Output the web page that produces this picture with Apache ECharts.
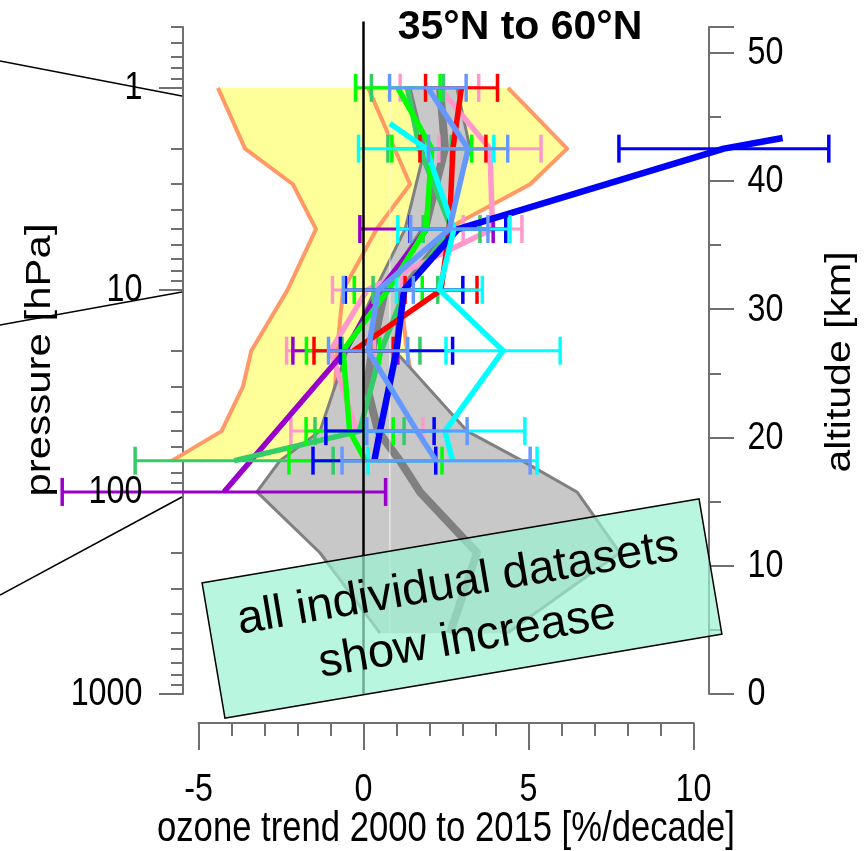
<!DOCTYPE html>
<html>
<head>
<meta charset="utf-8">
<script src="https://cdn.jsdelivr.net/npm/echarts@6/dist/echarts.min.js"></script>
<style>
  html, body { margin: 0; padding: 0; background: #fff; }
  #chart { width: 864px; height: 851px; }
</style>
</head>
<body>
<div id="chart"></div>
<script>
// ---- axis ticks ----
const pressureLabels = [1, 10, 100, 1000];
const pressureMinor = [0.5, 0.6, 0.7, 0.8, 0.9, 2, 3, 4, 5, 6, 7, 8, 9,
  20, 30, 40, 50, 60, 70, 80, 90, 200, 300, 400, 500, 600, 700, 800, 900];
const trendLabels = [-5, 0, 5, 10];
const altitudeLabels = [0, 10, 20, 30, 40, 50];

// ---- model range (yellow band): left / right edges and inner line ----
const yellowLeftP = [1, 2, 3, 5, 10, 20, 30, 50, 70];
const yellowLeftT = [-4.41, -3.59, -2.14, -1.44, -2.3, -3.4, -3.65, -4.3, -5.8];
const yellowRightP = [1, 2, 3, 5, 7, 10, 20, 30, 50, 60, 70];
const yellowRightT = [4.38, 6.17, 5.05, 2.53, 1.3, 1.1, 1.32, 1.5, 1.95, 2.53, 2.92];
const yellowInnerP = [1, 3, 5, 10, 20, 30, 50, 70];
const yellowInnerT = [0.14, 1.41, 0.4, -0.62, -0.8, -0.86, -1.1, -1.41];

// ---- combined estimate (gray band) ----
const grayP = [1, 2, 5, 10, 20, 50, 70, 100, 200, 500];
const grayLow = [1.41, 1.86, 1.26, 0.35, -0.5, -1.32, -2.53, -3.23, -1.32, 0.5];
const grayHigh = [2.83, 3.23, 2.53, 1.1, 0.95, 3.14, 4.8, 6.47, 7.77, 4.35];
const grayMidP = [1, 2, 5, 10, 20, 30, 50, 70, 100, 200, 500];
const grayMid = [2.32, 2.47, 1.86, 0.65, 0.26, 0.1, 0.44, 1.1, 1.71, 3.44, 2.62];

// ---- individual datasets: pressure [hPa], trend [%/decade], 2-sigma half width ----
const pinkP = [1, 2, 5, 10, 20, 50];
const pinkT = [2.3, 3.83, 3.91, 0.11, -1.0, -0.2];
const pinkE = [1.19, 1.55, 0.89, 1.05, 1.33, 2.0];

const purpleP = [5, 10, 20, 100];
const purpleT = [1.91, 0.5, -0.55, -4.23];
const purpleE = [2.02, null, 1.59, 4.9];

const seaGreenP = [1, 2, 5, 10, 20, 50, 70];
const seaGreenT = [1.33, 1.7, 2.67, 1.27, 0.53, -0.12, -3.92];
const seaGreenE = [1.09, 0.96, 0.86, 0.98, 1.18, 1.35, 3.0];

const greenP = [1, 2, 5, 10, 20, 50, 70];
const greenT = [1.04, 2.07, 1.9, 0.75, -0.62, -0.42, 0.06];
const greenE = [1.28, 1.21, null, 1.03, 1.11, 1.32, 2.32];

const redP = [1, 2, 5, 10, 20];
const redT = [2.97, 2.71, 2.6, 2.35, -0.3];
const redE = [1.09, 1.0, null, 1.09, 1.2];

const blueP = [1.77, 2, 5, 10, 20, 50, 70];
const blueT = [12.7, 10.92, 2.86, 1.23, 1.0, 0.5, 0.33];
const blueE = [null, 3.18, 1.45, 1.78, 1.7, 1.64, 1.86];

const cyanP = [1.5, 2, 5, 10, 20, 50, 70];
const cyanT = [0.8, 1.9, 2.74, 2.3, 4.23, 2.47, 2.7];
const cyanE = [null, 2.05, 1.7, 1.3, 1.73, 2.42, 2.56];

const cornflowerP = [1, 2, 5, 10, 20, 50, 70];
const cornflowerT = [1.95, 3.17, 2.6, 0.45, 0.14, 1.62, 2.2];
const cornflowerE = [1.16, 1.2, 1.17, 1.06, 1.2, 1.52, 2.85];

const FONT = '"Liberation Sans", Arial, sans-serif';
const AXIS_GRAY = '#707070';
const SQUEEZE = 0.85;
const lg = Math.log10;
const LOG_TOP = lg(0.5);
const LOG_BOTTOM = lg(1000);
const TREND_MIN = -5, TREND_MAX = 10;

const pts = (P, T) => P.map((p, i) => [T[i], lg(p)]);

function customBase(z, data, renderItem, yAxisIndex) {
  return {
    type: 'custom', coordinateSystem: 'cartesian2d', xAxisIndex: 0, yAxisIndex: yAxisIndex || 0,
    clip: false, silent: true, z: z, data: data, renderItem: renderItem
  };
}

// filled band between two edges
function band(leftP, leftT, rightP, rightT, fill, z) {
  const poly = pts(leftP, leftT).concat(pts(rightP, rightT).reverse());
  return customBase(z, [poly[0]], (params, api) => ({
    type: 'polygon',
    shape: { points: poly.map(v => api.coord(v)) },
    style: { fill: fill }
  }));
}

function polyline(P, T, color, width, z) {
  const v = pts(P, T);
  return customBase(z, [v[0]], (params, api) => ({
    type: 'polyline',
    shape: { points: v.map(p => api.coord(p)) },
    style: { stroke: color, lineWidth: width, fill: null, lineJoin: 'round' }
  }));
}

function errorBars(P, T, E, color, z) {
  const data = [];
  P.forEach((p, i) => { if (E[i] != null) data.push([T[i], lg(p), E[i]]); });
  return customBase(z, data, (params, api) => {
    const x = api.value(0), y = api.value(1), e = api.value(2);
    const a = api.coord([x - e, y]);
    const b = api.coord([x + e, y]);
    const tick = { stroke: color, lineWidth: 3.5 };
    return {
      type: 'group',
      children: [
        { type: 'line', shape: { x1: a[0], y1: a[1], x2: b[0], y2: b[1] }, style: { stroke: color, lineWidth: 3 } },
        { type: 'line', shape: { x1: a[0], y1: a[1] - 14, x2: a[0], y2: a[1] + 14 }, style: tick },
        { type: 'line', shape: { x1: b[0], y1: b[1] - 14, x2: b[0], y2: b[1] + 14 }, style: tick }
      ]
    };
  });
}

function dataset(P, T, E, color, width, z) {
  return [polyline(P, T, color, width, z), errorBars(P, T, E, color, z)];
}

// tick labels, placed through the axes and drawn slightly condensed
function tickText(text, pos, align) {
  return {
    type: 'text', x: pos[0], y: pos[1], scaleX: SQUEEZE,
    style: { text: text, font: '38px ' + FONT, fill: '#000', align: align, verticalAlign: 'middle' }
  };
}

const labelSeries = [
  customBase(20, pressureLabels.map(p => [TREND_MIN, lg(p)]), (params, api) => {
    const c = api.coord([api.value(0), api.value(1)]);
    return tickText(String(pressureLabels[params.dataIndex]), [c[0] - 56, c[1] + 1], 'right');
  }),
  customBase(20, trendLabels.map(t => [t, LOG_BOTTOM]), (params, api) => {
    const c = api.coord([api.value(0), api.value(1)]);
    return tickText(String(trendLabels[params.dataIndex]), [c[0], c[1] + 97], 'center');
  }),
  customBase(20, altitudeLabels.map(a => [TREND_MAX, a]), (params, api) => {
    const c = api.coord([api.value(0), api.value(1)]);
    return tickText(String(altitudeLabels[params.dataIndex]), [c[0] + 54, c[1] + 1], 'left');
  }, 1)
];

const series = [
  band(yellowLeftP, yellowLeftT, yellowRightP, yellowRightT, '#ffff99', 1),
  polyline(yellowLeftP, yellowLeftT, '#ff9966', 4, 2),
  polyline(yellowRightP, yellowRightT, '#ff9966', 4, 2),
  polyline(yellowInnerP, yellowInnerT, '#ff9966', 4, 2),
  band(grayP, grayLow, grayP, grayHigh, '#c8c8c8', 3),
  polyline(grayP, grayLow, '#808080', 3, 3),
  polyline(grayP, grayHigh, '#808080', 3, 3),
  polyline(grayMidP, grayMid, '#808080', 8, 4),
  // thin reference line
  polyline([1, 1000], [0.8, 0.8], 'rgba(255,255,255,0.75)', 1, 4),
  ...dataset(pinkP, pinkT, pinkE, '#ff99cc', 5.5, 5),
  ...dataset(purpleP, purpleT, purpleE, '#9900cc', 5.5, 5),
  ...dataset(seaGreenP, seaGreenT, seaGreenE, '#33cc66', 5.5, 5),
  ...dataset(greenP, greenT, greenE, '#00ff00', 5.5, 5),
  ...dataset(redP, redT, redE, '#ff0000', 5.5, 5),
  ...dataset(blueP, blueT, blueE, '#0000ff', 6.5, 5),
  ...dataset(cyanP, cyanT, cyanE, '#00ffff', 5.5, 5),
  ...dataset(cornflowerP, cornflowerT, cornflowerE, '#6699ff', 5.5, 5),
  // zero-trend line
  polyline([0.47, 1000], [0, 0], '#000000', 2.5, 6),
  ...labelSeries
];

const gridRect = { left: 198.5, top: 27, width: 495, height: 667 };
const axisLine = { show: true, onZero: false, lineStyle: { color: AXIS_GRAY, width: 2 } };
const tickStyle = { color: AXIS_GRAY, width: 2 };

const option = {
  animation: false,
  backgroundColor: '#ffffff',
  grid: [Object.assign({}, gridRect), Object.assign({}, gridRect)],
  xAxis: [
    {
      type: 'value', gridIndex: 0, min: TREND_MIN, max: TREND_MAX, interval: 5,
      position: 'bottom', offset: 29,
      axisLine: axisLine,
      axisTick: { show: true, length: 27, lineStyle: tickStyle },
      minorTick: { show: true, splitNumber: 5, length: 13, lineStyle: tickStyle },
      axisLabel: { show: false },
      splitLine: { show: false }
    },
    {
      type: 'value', gridIndex: 1, min: TREND_MIN, max: TREND_MAX, show: false,
      axisLine: { show: false, onZero: false }
    }
  ],
  yAxis: [
    {
      type: 'value', gridIndex: 0, min: LOG_TOP, max: LOG_BOTTOM, inverse: true,
      position: 'left', offset: 15.5,
      axisLine: axisLine,
      axisTick: { show: true, length: 24, customValues: pressureLabels.map(lg), lineStyle: tickStyle },
      axisLabel: { show: false },
      splitLine: { show: false }
    },
    {
      type: 'value', gridIndex: 0, min: 0, max: 52, interval: 10,
      position: 'right', offset: 15.5,
      axisLine: axisLine,
      axisTick: { show: true, length: 25, lineStyle: tickStyle },
      minorTick: { show: true, splitNumber: 2, length: 12, lineStyle: tickStyle },
      axisLabel: { show: false },
      splitLine: { show: false }
    },
    {
      type: 'value', gridIndex: 1, min: LOG_TOP, max: LOG_BOTTOM, inverse: true,
      position: 'left', offset: 15.5,
      axisLine: { show: false, onZero: false },
      axisTick: { show: true, length: 12, customValues: pressureMinor.map(lg), lineStyle: tickStyle },
      axisLabel: { show: false },
      splitLine: { show: false }
    }
  ],
  graphic: [
    // leader lines towards the neighbouring panel
    { type: 'line', z: 50, shape: { x1: 0, y1: 61, x2: 182, y2: 96 }, style: { stroke: '#000', lineWidth: 1.5 } },
    { type: 'line', z: 50, shape: { x1: 0, y1: 325, x2: 182, y2: 292 }, style: { stroke: '#000', lineWidth: 1.5 } },
    { type: 'line', z: 50, shape: { x1: 0, y1: 595, x2: 182, y2: 497 }, style: { stroke: '#000', lineWidth: 1.5 } },
    {
      type: 'text', z: 50, x: 520, y: 28,
      style: { text: '35°N to 60°N', font: 'bold 41px ' + FONT, fill: '#000', textAlign: 'center', textVerticalAlign: 'middle' }
    },
    // axis titles
    {
      type: 'text', z: 50, x: 446, y: 829, scaleX: 0.825,
      style: { text: 'ozone trend 2000 to 2015 [%/decade]', font: '42px ' + FONT, fill: '#000', textAlign: 'center', textVerticalAlign: 'middle' }
    },
    {
      type: 'text', z: 50, x: 40, y: 360, rotation: Math.PI / 2, scaleY: SQUEEZE,
      style: { text: 'pressure [hPa]', font: '42px ' + FONT, fill: '#000', textAlign: 'center', textVerticalAlign: 'middle' }
    },
    {
      type: 'text', z: 50, x: 840, y: 362, rotation: Math.PI / 2, scaleY: SQUEEZE,
      style: { text: 'altitude [km]', font: '41px ' + FONT, fill: '#000', textAlign: 'center', textVerticalAlign: 'middle' }
    },
    // annotation box
    {
      type: 'group', x: 462, y: 608.5, rotation: 9.6 * Math.PI / 180, z: 100,
      children: [
        {
          type: 'rect', z: 100, shape: { x: -252, y: -68.5, width: 504, height: 137 },
          style: { fill: 'rgba(155,242,210,0.7)', stroke: '#000', lineWidth: 1.5 }
        },
        {
          type: 'text', z: 101, x: 0, y: -25,
          style: { text: 'all individual datasets', font: '47px ' + FONT, fill: '#000', textAlign: 'center', textVerticalAlign: 'middle' }
        },
        {
          type: 'text', z: 101, x: 0, y: 31,
          style: { text: 'show increase', font: '47px ' + FONT, fill: '#000', textAlign: 'center', textVerticalAlign: 'middle' }
        }
      ]
    }
  ],
  series: series
};

const chart = echarts.init(document.getElementById('chart'), null, { renderer: 'canvas' });
chart.setOption(option);
</script>
</body>
</html>
